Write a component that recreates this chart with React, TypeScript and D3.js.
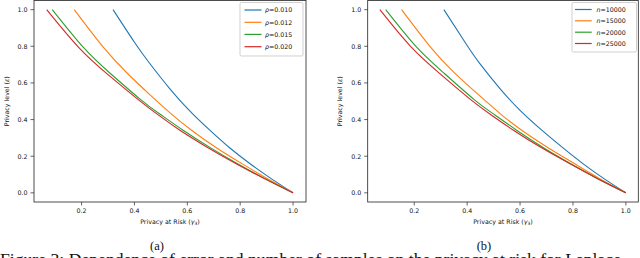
import React from "react";
import * as d3 from "d3";

const colors = ["#1f77b4", "#ff7f0e", "#2ca02c", "#d62728"];

const xTicks = [0.2, 0.4, 0.6, 0.8, 1.0];
const yTicks = [0.0, 0.2, 0.4, 0.6, 0.8, 1.0];

const leftLabels = ["0.010", "0.012", "0.015", "0.020"];
const rightLabels = ["10000", "15000", "20000", "25000"];

// Left panel (rho)
const rho010Gamma = [0.319, 0.4, 0.458, 0.534, 0.61, 0.685, 0.76, 0.84, 0.92, 1.0];
const rho010Eps = [1.0, 0.822, 0.706, 0.568, 0.446, 0.342, 0.246, 0.156, 0.075, 0.0];
const rho012Gamma = [0.172, 0.282, 0.37, 0.458, 0.54, 0.616, 0.71, 0.808, 0.9, 1.0];
const rho012Eps = [1.0, 0.795, 0.657, 0.536, 0.43, 0.342, 0.246, 0.158, 0.08, 0.0];
const rho015Gamma = [0.089, 0.206, 0.31, 0.427, 0.5, 0.584, 0.69, 0.79, 0.89, 1.0];
const rho015Eps = [1.0, 0.795, 0.65, 0.505, 0.426, 0.342, 0.244, 0.159, 0.08, 0.0];
const rho020Gamma = [0.068, 0.187, 0.3, 0.418, 0.495, 0.572, 0.68, 0.785, 0.89, 1.0];
const rho020Eps = [1.0, 0.797, 0.645, 0.505, 0.42, 0.342, 0.245, 0.159, 0.079, 0.0];

// Right panel (n)
const n10000Gamma = [0.312, 0.395, 0.448, 0.524, 0.6, 0.682, 0.76, 0.84, 0.92, 1.0];
const n10000Eps = [1.0, 0.815, 0.705, 0.569, 0.45, 0.342, 0.248, 0.157, 0.075, 0.0];
const n15000Gamma = [0.152, 0.259, 0.35, 0.448, 0.53, 0.606, 0.7, 0.805, 0.9, 1.0];
const n15000Eps = [1.0, 0.8, 0.658, 0.529, 0.426, 0.342, 0.252, 0.16, 0.079, 0.0];
const n20000Gamma = [0.092, 0.209, 0.315, 0.43, 0.505, 0.587, 0.69, 0.79, 0.89, 1.0];
const n20000Eps = [1.0, 0.795, 0.65, 0.505, 0.425, 0.342, 0.245, 0.16, 0.08, 0.0];
const n25000Gamma = [0.07, 0.186, 0.3, 0.417, 0.495, 0.575, 0.68, 0.787, 0.89, 1.0];
const n25000Eps = [1.0, 0.8, 0.647, 0.505, 0.421, 0.342, 0.247, 0.16, 0.08, 0.0];

const zip = (xs: number[], ys: number[]) => xs.map((x, i) => [x, ys[i]] as [number, number]);

const leftSeries = [
  zip(rho010Gamma, rho010Eps),
  zip(rho012Gamma, rho012Eps),
  zip(rho015Gamma, rho015Eps),
  zip(rho020Gamma, rho020Eps),
];
const rightSeries = [
  zip(n10000Gamma, n10000Eps),
  zip(n15000Gamma, n15000Eps),
  zip(n20000Gamma, n20000Eps),
  zip(n25000Gamma, n25000Eps),
];

const FONT = "DejaVu Sans, sans-serif";
const FS = 6.3;

type PanelProps = {
  id: string;
  x0: number;
  x1: number;
  xDomain: [number, number];
  series: [number, number][][];
  labels: string[];
  sym: string;
  legend: { x: number; y: number; w: number; h: number; rowY: number[]; lineX0: number; lineX1: number; textX: number };
  yLabelX: number;
  caption: string;
  captionX: number;
};

function Panel(p: PanelProps) {
  const y0 = 0.5;
  const y1 = 202;
  const x = d3.scaleLinear().domain(p.xDomain).range([p.x0, p.x1]);
  const y = d3.scaleLinear().domain([-0.05, 1.05]).range([y1, y0]);
  const line = d3
    .line<[number, number]>()
    .x((d) => x(d[0]))
    .y((d) => y(d[1]))
    .curve(d3.curveNatural);
  const cx = (p.x0 + p.x1) / 2;
  const cy = (y0 + y1) / 2;
  return (
    <g>
      <clipPath id={"clip" + p.id}>
        <rect x={p.x0} y={y0} width={p.x1 - p.x0} height={y1 - y0} />
      </clipPath>
      <g clipPath={`url(#clip${p.id})`}>
        {p.series.map((s, i) => (
          <path key={i} d={line(s) || ""} fill="none" stroke={colors[i]} strokeWidth={1.1} />
        ))}
      </g>
      <rect x={p.x0} y={y0} width={p.x1 - p.x0} height={y1 - y0} fill="none" stroke="#222" strokeWidth={0.8} />
      {xTicks.map((t) => (
        <g key={"x" + t}>
          <line x1={x(t)} x2={x(t)} y1={y1} y2={y1 + 3.5} stroke="#222" strokeWidth={0.7} />
          <text x={x(t)} y={y1 + 11} fontSize={FS} fontFamily={FONT} textAnchor="middle" fill="#111">
            {t.toFixed(1)}
          </text>
        </g>
      ))}
      {yTicks.map((t) => (
        <g key={"y" + t}>
          <line x1={p.x0 - 3.5} x2={p.x0} y1={y(t)} y2={y(t)} stroke="#222" strokeWidth={0.7} />
          <text x={p.x0 - 6.5} y={y(t) + 2.3} fontSize={FS} fontFamily={FONT} textAnchor="end" fill="#111">
            {t.toFixed(1)}
          </text>
        </g>
      ))}
      <text x={cx} y={y1 + 21.5} fontSize={FS} fontFamily={FONT} textAnchor="middle" fill="#111">
        Privacy at Risk (<tspan fontStyle="italic">γ</tspan>
        <tspan fontSize={FS * 0.7} dy={1.5}>3</tspan>
        <tspan dy={-1.5}>)</tspan>
      </text>
      <text
        transform={`translate(${p.yLabelX},${cy}) rotate(-90)`}
        fontSize={FS}
        fontFamily={FONT}
        textAnchor="middle"
        fill="#111"
      >
        Privacy level (<tspan fontStyle="italic">ε</tspan>)
      </text>
      <rect
        x={p.legend.x}
        y={p.legend.y}
        width={p.legend.w}
        height={p.legend.h}
        rx={1.5}
        fill="white"
        fillOpacity={0.8}
        stroke="#bbb"
        strokeWidth={0.7}
      />
      {p.labels.map((l, i) => (
        <g key={l}>
          <line
            x1={p.legend.lineX0}
            x2={p.legend.lineX1}
            y1={p.legend.rowY[i]}
            y2={p.legend.rowY[i]}
            stroke={colors[i]}
            strokeWidth={1.2}
          />
          <text x={p.legend.textX} y={p.legend.rowY[i] + 2.3} fontSize={FS} fontFamily={FONT} fill="#111">
            <tspan fontStyle="italic">{p.sym}</tspan>={l}
          </text>
        </g>
      ))}
      <text x={p.captionX} y={249.5} fontSize={12.5} fontFamily="Liberation Serif, serif" textAnchor="middle" fill="#111">
        {p.caption}
      </text>
    </g>
  );
}

export default function App() {
  return (
    <svg width={640} height={258} style={{ position: "absolute", left: 0, top: 0, background: "white" }}>
      <rect width={640} height={258} fill="white" />
      <Panel
        id="a"
        x0={34}
        x1={306}
        xDomain={[0.02, 1.049]}
        series={leftSeries}
        labels={leftLabels}
        sym="ρ"
        legend={{ x: 240, y: 2.5, w: 63, h: 53.5, rowY: [10, 22.3, 34.4, 46.7], lineX0: 244.5, lineX1: 261.5, textX: 265 }}
        yLabelX={8.5}
        caption="(a)"
        captionX={157}
      />
      <Panel
        id="b"
        x0={367.7}
        x1={638.3}
        xDomain={[0.024, 1.047]}
        series={rightSeries}
        labels={rightLabels}
        sym="n"
        legend={{ x: 572, y: 2.5, w: 64.5, h: 49.5, rowY: [9.5, 20.8, 32.2, 43.5], lineX0: 575, lineX1: 591.7, textX: 596.5 }}
        yLabelX={341.5}
        caption="(b)"
        captionX={484}
      />
      <text
        x={0}
        y={265}
        fontSize={16.5}
        fontFamily="Liberation Serif, serif"
        fill="#111"
        textLength={621}
        lengthAdjust="spacingAndGlyphs"
      >
        Figure 3: Dependence of error and number of samples on the privacy at risk for Laplace
      </text>
    </svg>
  );
}
